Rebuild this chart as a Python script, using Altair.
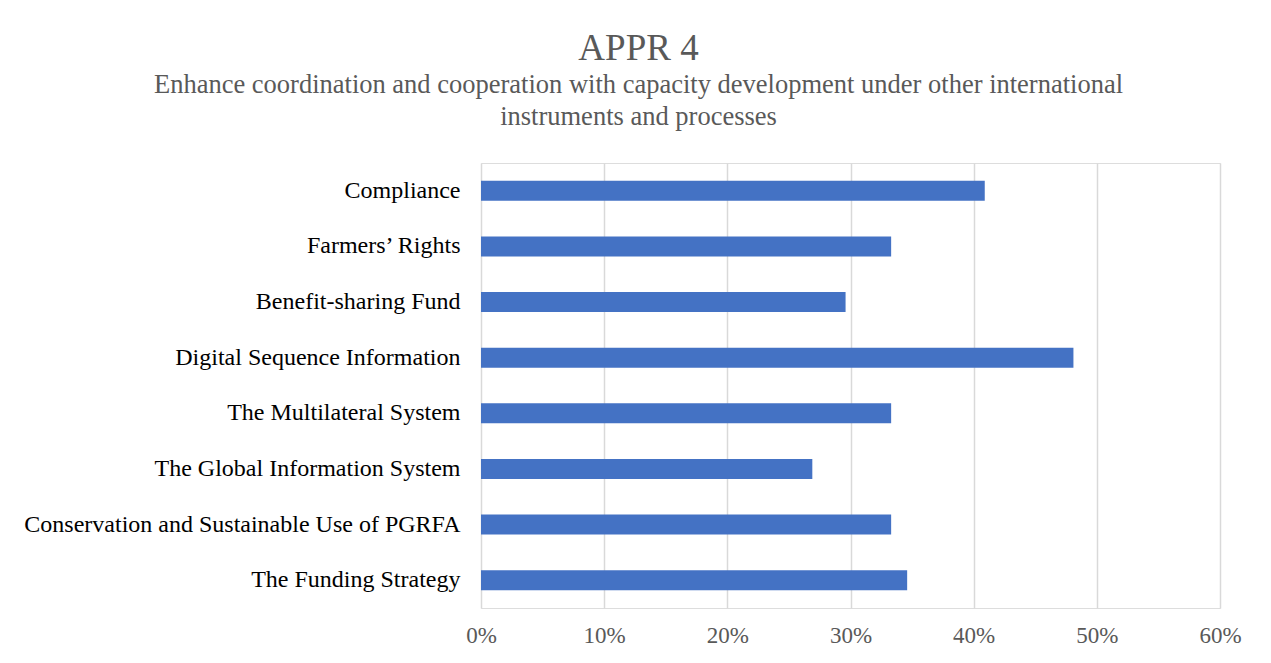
import altair as alt
import pandas as pd

categories = [
    "Compliance",
    "Farmers’ Rights",
    "Benefit-sharing Fund",
    "Digital Sequence Information",
    "The Multilateral System",
    "The Global Information System",
    "Conservation and Sustainable Use of PGRFA",
    "The Funding Strategy",
]
values = [0.409, 0.333, 0.296, 0.481, 0.333, 0.269, 0.333, 0.346]

df = pd.DataFrame({"category": categories, "value": values})

FONT = "Times New Roman, Liberation Serif, serif"

chart = alt.Chart(df).mark_bar(color="#4472C4").encode(
    x=alt.X("value:Q",
            scale=alt.Scale(domain=[0, 0.6], nice=False),
            axis=alt.Axis(format=".0%", values=[0, 0.1, 0.2, 0.3, 0.4, 0.5, 0.6],
                          title=None, domain=False, ticks=False, grid=True,
                          gridColor="#d9d9d9", gridWidth=1.5, labelFlush=False,
                          labelFont=FONT, labelFontSize=23,
                          labelColor="#595959", labelPadding=16)),
    y=alt.Y("category:N", sort=categories,
            scale=alt.Scale(paddingInner=0.64, paddingOuter=0.32),
            axis=alt.Axis(title=None, domain=False, ticks=False, grid=False,
                          labelFont=FONT, labelFontSize=24,
                          labelColor="#000000", labelPadding=21, labelLimit=700)),
).properties(
    width=739,
    height=445,
    padding={"left": 473, "top": 155, "right": 43, "bottom": 47},
    autosize=alt.AutoSizeParams(type="none"),
    title=alt.TitleParams(
        text="APPR 4",
        subtitle=["Enhance coordination and cooperation with capacity development under other international",
                  "instruments and processes"],
        anchor="middle",
        dx=-212,
        font=FONT,
        fontSize=37,
        fontWeight="normal",
        color="#595959",
        subtitleFont=FONT,
        subtitleFontSize=26.5,
        subtitleColor="#595959",
        subtitleLineHeight=32,
        subtitlePadding=4,
        offset=32,
    ),
).configure_view(strokeWidth=0, stroke="transparent").configure(background="white")

chart.save("out.html", embed_options={"renderer": "svg", "actions": False})
